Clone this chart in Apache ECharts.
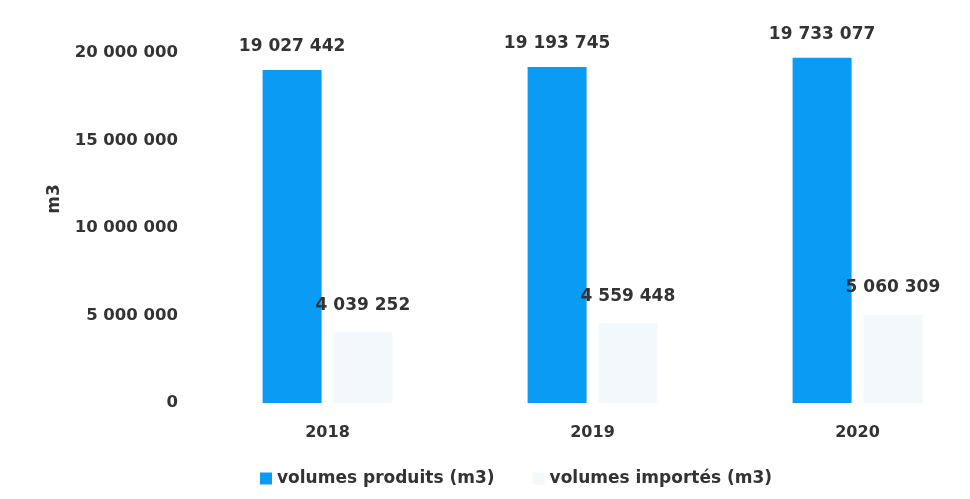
<!DOCTYPE html>
<html><head><meta charset="utf-8">
<script src="https://cdn.jsdelivr.net/npm/echarts@6/dist/echarts.min.js"></script>
<style>html,body{margin:0;padding:0;background:#fff;overflow:hidden}#c{width:990px;height:499px}</style>
</head><body><div id="c"></div>
<script>
const categories = ['2018', '2019', '2020'];
const produits = [19027442, 19193745, 19733077];
const importes = [4039252, 4559448, 5060309];
const yTicks = [0, 5000000, 10000000, 15000000, 20000000];

function fmt(v){ return String(v).replace(/\B(?=(\d{3})+(?!\d))/g, ' '); }
const FONT = 'DejaVu Sans';
const chart = echarts.init(document.getElementById('c'), null, {renderer:'canvas'});
chart.setOption({
  backgroundColor:'#ffffff',
  animation:false,
  grid:{left:195, top:53, right:0, bottom:96, containLabel:false},
  legend:{
    left:255, top:465, itemWidth:12, itemHeight:12, itemGap:38,
    icon:'rect',
    textStyle:{fontFamily:FONT, fontWeight:'bold', fontSize:17, color:'#333'},
    data:['volumes produits (m3)','volumes importés (m3)']
  },
  xAxis:{
    type:'category', data:categories,
    axisLine:{show:false}, axisTick:{show:false},
    axisLabel:{fontFamily:FONT, fontWeight:'bold', fontSize:16, color:'#333', margin:22}
  },
  yAxis:{
    type:'value', min:yTicks[0], max:yTicks[yTicks.length-1], interval:5000000,
    name:'m3', nameLocation:'middle', nameGap:132, nameRotate:90,
    nameTextStyle:{fontFamily:FONT, fontWeight:'bold', fontSize:17, color:'#333', padding:[0,0,0,58]},
    splitLine:{show:false}, axisLine:{show:false}, axisTick:{show:false},
    axisLabel:{fontFamily:FONT, fontWeight:'bold', fontSize:16.5, color:'#333', margin:17, formatter:fmt}
  },
  series:[
    {name:'volumes produits (m3)', type:'bar', data:produits, barWidth:59, barGap:'20%',
     itemStyle:{color:'#0a9cf5'},
     label:{show:true, position:'top', distance:15, formatter:p=>fmt(p.value),
       fontFamily:FONT, fontWeight:'bold', fontSize:17, color:'#333'}},
    {name:'volumes importés (m3)', type:'bar', data:importes, barWidth:59,
     itemStyle:{color:'#f3f8fc'},
     label:{show:true, position:'top', distance:18, formatter:p=>fmt(p.value),
       fontFamily:FONT, fontWeight:'bold', fontSize:17, color:'#333'}}
  ]
});
</script></body></html>
